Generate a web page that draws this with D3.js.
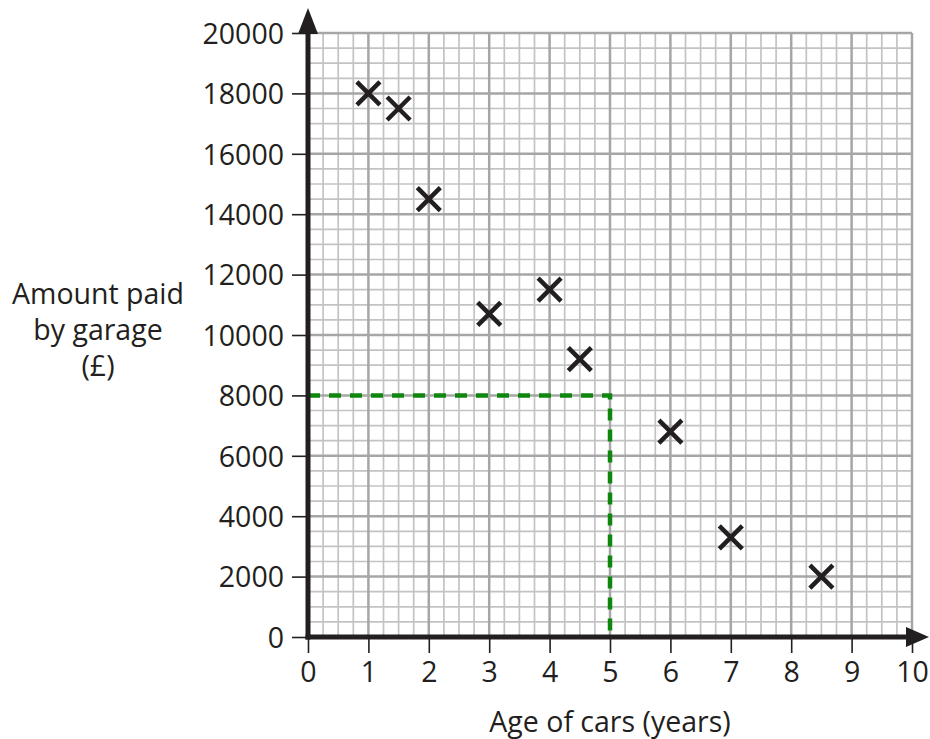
<!DOCTYPE html>
<html>
<head>
<meta charset="utf-8">
<script src="https://cdn.jsdelivr.net/npm/d3@7"></script>
<style>
html,body{margin:0;padding:0;background:#fff;}
svg{display:block;}
text{font-family:"Open Sans",sans-serif;fill:#231f20;}
</style>
</head>
<body>
<svg id="chart" width="930" height="739"></svg>
<script>
// Data
const ages = [1, 1.5, 2, 3, 4, 4.5, 6, 7, 8.5];
const amounts = [18000, 17500, 14500, 10700, 11500, 9200, 6800, 3300, 2000];
const xTicks = [0,1,2,3,4,5,6,7,8,9,10];
const yTicks = [0,2000,4000,6000,8000,10000,12000,14000,16000,18000,20000];
const readAge = [5];
const readAmount = [8000];
const xTitle = "Age of cars (years)";
const yTitleLines = ["Amount paid", "by garage", "(£)"];

const svg = d3.select("#chart");
const x = d3.scaleLinear().domain([0,10]).range([308,912]);
const y = d3.scaleLinear().domain([0,20000]).range([637,33]);
const ink = "#231f20";
const fs = 28.5;

// grid
const g = svg.append("g");
const minorX = d3.range(0, 10.001, 0.25).filter(v => Math.abs(v - Math.round(v)) > 1e-6);
const minorY = d3.range(0, 20001, 500).filter(v => v % 2000 !== 0);
g.selectAll(".mx").data(minorX).join("line")
  .attr("x1", d => x(d)).attr("x2", d => x(d)).attr("y1", y(0)).attr("y2", y(20000))
  .attr("stroke", "#c3c3c3").attr("stroke-width", 1.7);
g.selectAll(".my").data(minorY).join("line")
  .attr("y1", d => y(d)).attr("y2", d => y(d)).attr("x1", x(0)).attr("x2", x(10))
  .attr("stroke", "#c3c3c3").attr("stroke-width", 1.7);
g.selectAll(".Mx").data(xTicks.slice(1)).join("line")
  .attr("x1", d => x(d)).attr("x2", d => x(d)).attr("y1", y(0)).attr("y2", y(20000))
  .attr("stroke", "#a6a6a6").attr("stroke-width", 2.5);
g.selectAll(".My").data(yTicks.slice(1)).join("line")
  .attr("y1", d => y(d)).attr("y2", d => y(d)).attr("x1", x(0)).attr("x2", x(10))
  .attr("stroke", "#a6a6a6").attr("stroke-width", 2.5);

// dashed reading lines
const green = "#0f870f";
svg.append("path")
  .attr("d", `M${x(0)},${y(readAmount[0])}H${x(readAge[0])}V${y(0)}`)
  .attr("fill", "none").attr("stroke", green).attr("stroke-width", 4.5)
  .attr("stroke-dasharray", "12,9");

// axes with d3
const yAxis = d3.axisLeft(y).tickValues(yTicks).tickSize(16).tickPadding(8).tickFormat(d3.format("d"));
const ya = svg.append("g").attr("transform", `translate(${x(0)},0)`).call(yAxis);
ya.select(".domain").remove();
ya.selectAll(".tick line").attr("stroke", ink).attr("stroke-width", 1.6);
ya.selectAll(".tick text").attr("font-size", fs).attr("font-family", "Open Sans").attr("fill", ink).attr("dy", "0.36em");

const xAxis = d3.axisBottom(x).tickValues(xTicks).tickSize(16).tickPadding(9).tickFormat(d3.format("d"));
const xa = svg.append("g").attr("transform", `translate(0,${y(0)})`).call(xAxis);
xa.select(".domain").remove();
xa.selectAll(".tick line").attr("stroke", ink).attr("stroke-width", 1.6);
xa.selectAll(".tick text").attr("font-size", fs).attr("font-family", "Open Sans").attr("fill", ink).attr("dy", "0.7em");

// axis lines with arrows
svg.append("line").attr("x1", x(0)).attr("x2", x(0)).attr("y1", y(0) + 2.5).attr("y2", 30)
  .attr("stroke", ink).attr("stroke-width", 5);
svg.append("path").attr("d", `M${x(0)},8L${x(0)+10},34L${x(0)-10},34Z`).attr("fill", ink);
svg.append("line").attr("x1", x(0) - 2.5).attr("x2", 912).attr("y1", y(0)).attr("y2", y(0))
  .attr("stroke", ink).attr("stroke-width", 5);
svg.append("path").attr("d", `M929,${y(0)}L906,${y(0)-10}L906,${y(0)+10}Z`).attr("fill", ink);

// crosses
const pts = ages.map((a, i) => [a, amounts[i]]);
const s = 11.5;
svg.append("g").selectAll("path").data(pts).join("path")
  .attr("d", d => `M${x(d[0])-s},${y(d[1])-s}L${x(d[0])+s},${y(d[1])+s}M${x(d[0])+s},${y(d[1])-s}L${x(d[0])-s},${y(d[1])+s}`)
  .attr("stroke", ink).attr("stroke-width", 4.5).attr("fill", "none");

// titles
svg.append("text").attr("x", 610).attr("y", 732).attr("text-anchor", "middle")
  .attr("font-size", fs).text(xTitle);
svg.append("g").selectAll("text").data(yTitleLines).join("text")
  .attr("x", 98).attr("y", (d, i) => 304 + i * 36).attr("text-anchor", "middle")
  .attr("font-size", fs).text(d => d);
</script>
</body>
</html>
